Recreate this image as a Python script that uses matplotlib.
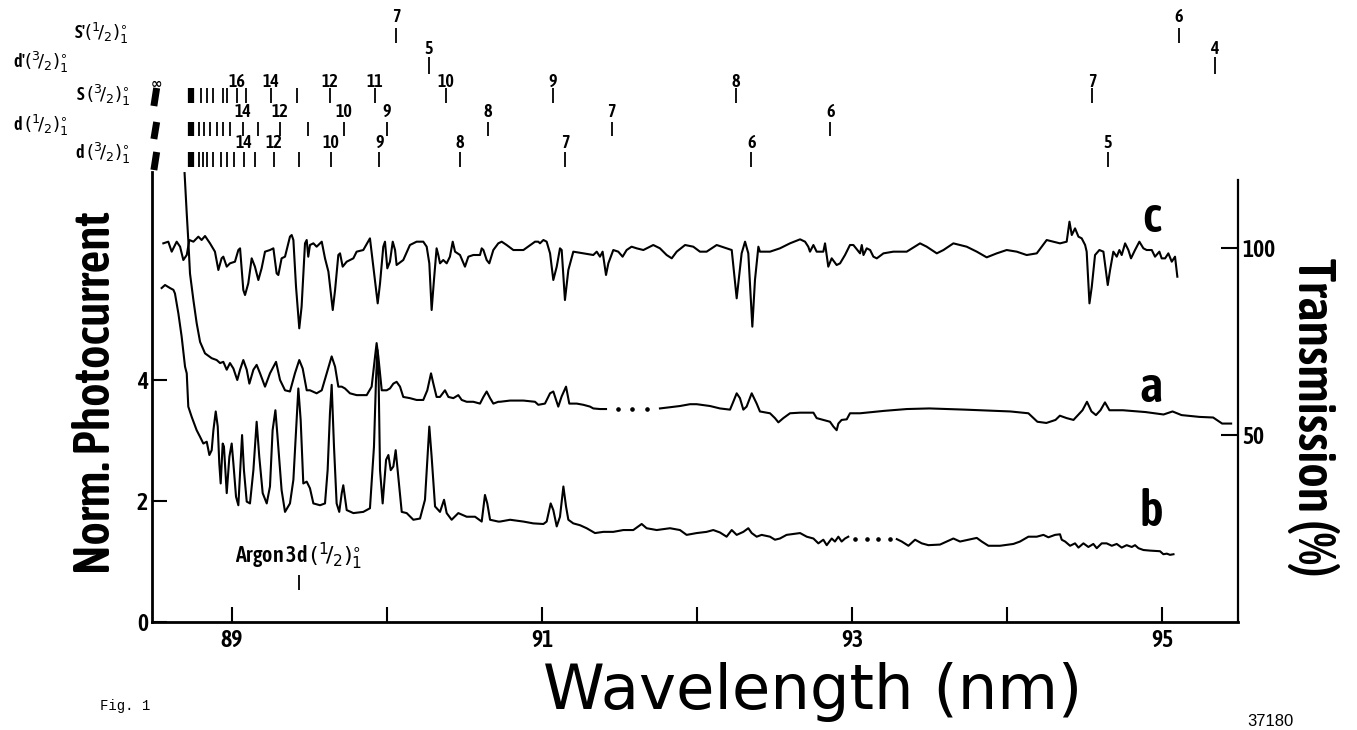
import os
import matplotlib
matplotlib.use("Agg")
import matplotlib.pyplot as plt
from matplotlib import font_manager as fm
from matplotlib.font_manager import FontProperties

# ---------------------------------------------------------------- data
# curve c : transmission (%) vs wavelength (nm)
c_wl = [88.557, 88.589, 88.611, 88.643, 88.665, 88.686, 88.708, 88.725, 88.751, 88.783, 88.804, 88.826,
        88.858, 88.890, 88.912, 88.933, 88.944, 88.966, 88.987, 89.019, 89.041, 89.052, 89.073, 89.084,
        89.105, 89.127, 89.148, 89.170, 89.191, 89.213, 89.245, 89.267, 89.288, 89.299, 89.320, 89.342,
        89.374, 89.385, 89.396, 89.413, 89.434, 89.449, 89.471, 89.482, 89.492, 89.503, 89.525, 89.546,
        89.568, 89.579, 89.600, 89.622, 89.650, 89.665, 89.686, 89.697, 89.714, 89.740, 89.783, 89.804,
        89.847, 89.890, 89.912, 89.940, 89.955, 89.976, 89.987, 90.002, 90.019, 90.037, 90.052, 90.062,
        90.105, 90.148, 90.191, 90.234, 90.256, 90.273, 90.288, 90.303, 90.320, 90.331, 90.342, 90.363,
        90.385, 90.406, 90.424, 90.439, 90.471, 90.503, 90.525, 90.557, 90.600, 90.611, 90.622, 90.643,
        90.660, 90.686, 90.718,
        90.740, 90.772, 90.815, 90.880, 90.955, 90.976, 90.987, 91.009, 91.030, 91.052, 91.073, 91.095,
        91.116, 91.127, 91.148, 91.170, 91.202, 91.267, 91.331, 91.353, 91.374, 91.391, 91.413, 91.428,
        91.460, 91.492, 91.520, 91.546, 91.578, 91.611, 91.654, 91.718, 91.761, 91.804, 91.837, 91.869,
        91.923, 91.976, 92.019, 92.062, 92.127, 92.191, 92.224, 92.256, 92.288, 92.310, 92.331, 92.357,
        92.374, 92.396, 92.406, 92.471, 92.535, 92.600, 92.665, 92.697, 92.718, 92.729, 92.751, 92.772,
        92.815, 92.826, 92.847, 92.869, 92.901, 92.923, 92.955, 92.987, 93.009, 93.052,
        93.063, 93.074, 93.095, 93.117, 93.138, 93.160, 93.203, 93.267, 93.353, 93.439, 93.482, 93.547,
        93.590, 93.654, 93.740, 93.805, 93.869, 93.934, 93.998, 94.063, 94.127, 94.192, 94.224, 94.256,
        94.299, 94.342, 94.385, 94.403, 94.418, 94.439, 94.461, 94.482, 94.504, 94.514, 94.532, 94.547,
        94.568, 94.596, 94.622, 94.650, 94.665, 94.686, 94.708, 94.725, 94.740, 94.762, 94.783, 94.800,
        94.826, 94.854, 94.880, 94.901, 94.934, 94.955, 94.983, 94.998, 95.020, 95.041, 95.063, 95.084,
        95.099]
c_T = [101.25, 101.69, 99.02, 101.69, 100.35, 96.79, 98.13, 102.14, 101.69, 103.03, 102.14, 103.21,
       101.25, 99.02, 94.12, 97.24, 97.68, 95.01, 95.90, 96.34, 99.46, 99.91, 88.77, 87.43,
       90.55, 97.24, 95.01, 91.44, 94.56, 99.02, 99.46, 99.91, 93.22, 92.78, 97.24, 97.68,
       103.03, 103.47, 102.14, 89.66, 78.52, 84.31, 101.25, 102.14, 97.68, 100.80, 101.25, 100.35,
       101.25, 101.69, 97.24, 93.67, 83.42, 88.77, 98.13, 98.57, 95.01, 96.34, 97.24, 99.02,
       99.46, 102.58, 95.01, 85.20, 90.55, 100.35, 101.69, 94.56, 96.34, 101.69, 99.46, 95.45,
       96.79, 100.80, 101.69, 101.69, 100.35, 95.90, 83.42, 91.44, 99.91, 98.13, 95.90, 96.79,
       95.90, 97.68, 101.69, 99.02, 98.13, 95.01, 97.68, 98.13, 98.13, 99.91, 99.46, 96.79,
       95.90, 99.46, 101.25,
       101.69, 100.80, 99.46, 99.46, 101.69, 101.69, 101.25, 102.14, 101.69, 98.57, 91.44, 95.01,
       99.91, 99.46, 86.09, 94.12, 99.02, 98.57, 98.13, 99.02, 97.68, 99.02, 92.78, 95.90,
       99.46, 99.02, 97.68, 99.46, 100.35, 99.91, 99.46, 100.80, 99.91, 98.13, 97.24, 99.02,
       100.80, 100.35, 99.02, 99.02, 100.80, 99.91, 99.46, 86.54, 98.57, 101.69, 98.57, 78.97,
       91.44, 100.35, 99.02, 99.02, 99.91, 101.25, 102.32, 101.69, 100.35, 99.02, 100.80, 99.02,
       99.02, 101.25, 95.01, 97.24, 95.45, 95.90, 98.13, 100.80, 100.80, 98.57,
       100.80, 98.12, 99.91, 99.46, 97.68, 97.23, 98.57, 99.02, 99.02, 101.24, 100.35, 98.57,
       99.46, 101.24, 100.35, 99.02, 97.50, 98.57, 99.46, 99.02, 98.12, 98.57, 100.35, 102.13,
       101.69, 101.24, 101.69, 107.04, 103.47, 105.25, 103.03, 102.58, 100.80, 99.02, 85.20, 89.66,
       98.12, 99.46, 99.02, 90.10, 94.11, 99.02, 97.68, 99.46, 98.12, 101.24, 99.46, 97.23,
       99.46, 101.69, 99.91, 99.46, 99.46, 97.68, 99.02, 97.23, 97.23, 98.57, 96.34, 97.68,
       92.33]

# curve a : normalised photocurrent (solid part 1, dotted gap, solid part 2)
a1_wl = [88.694, 88.708, 88.718, 88.729, 88.751, 88.772, 88.794, 88.826, 88.869, 88.901, 88.923, 88.944,
         88.966, 88.987, 89.009, 89.034, 89.052, 89.073, 89.095, 89.112, 89.138, 89.159, 89.181, 89.213,
         89.245, 89.284, 89.310, 89.342, 89.374, 89.406, 89.434, 89.456, 89.482, 89.503, 89.546, 89.579,
         89.611, 89.643, 89.665, 89.686, 89.708, 89.729, 89.761, 89.804, 89.869, 89.901, 89.923, 89.933,
         89.944, 89.966, 89.998, 90.019, 90.041, 90.062, 90.084, 90.105, 90.148, 90.191, 90.234, 90.260,
         90.284, 90.299, 90.320, 90.342, 90.374, 90.396, 90.428, 90.460, 90.482, 90.514, 90.557, 90.600,
         90.622, 90.643, 90.665, 90.686, 90.718, 90.729, 90.794, 90.880, 90.955, 90.976, 91.019, 91.052,
         91.073, 91.105, 91.127, 91.155, 91.176, 91.224, 91.267, 91.310, 91.331, 91.374, 91.413]
a1_v = [7.42, 6.75, 6.31, 5.76, 5.32, 4.94, 4.63, 4.44, 4.36, 4.33, 4.28, 4.30,
        4.17, 4.28, 4.19, 4.00, 4.17, 4.33, 4.17, 3.94, 4.17, 4.25, 4.11, 3.89,
        4.11, 4.30, 4.00, 3.83, 3.81, 4.11, 4.33, 4.19, 3.83, 3.83, 3.78, 3.83,
        4.11, 4.39, 4.22, 3.89, 3.89, 3.86, 3.78, 3.75, 3.75, 3.89, 4.39, 4.61,
        4.39, 3.83, 3.83, 3.86, 3.94, 3.97, 3.89, 3.72, 3.70, 3.67, 3.67, 3.83,
        4.11, 3.94, 3.72, 3.72, 3.83, 3.72, 3.70, 3.75, 3.67, 3.64, 3.64, 3.61,
        3.72, 3.81, 3.70, 3.61, 3.64, 3.64, 3.66, 3.66, 3.64, 3.59, 3.61, 3.78,
        3.81, 3.56, 3.73, 3.89, 3.61, 3.61, 3.59, 3.56, 3.53, 3.52, 3.52]
a_gap_wl = [91.492, 91.578, 91.675]
a_gap_v = [3.52, 3.52, 3.52]
a2_wl = [91.761, 91.826, 91.890, 91.955, 91.998, 92.084, 92.148, 92.213, 92.234, 92.256, 92.277, 92.299,
         92.320, 92.353, 92.385, 92.406, 92.471, 92.503, 92.525, 92.557, 92.600, 92.665, 92.751, 92.772,
         92.815, 92.858, 92.880, 92.901, 92.912, 92.933, 92.966, 92.987, 93.052, 93.208, 93.354, 93.499,
         93.731, 94.022, 94.138, 94.196, 94.254, 94.313, 94.341, 94.385, 94.429, 94.487, 94.516, 94.545,
         94.574, 94.603, 94.632, 94.661, 94.748, 94.894, 95.010, 95.068, 95.126, 95.242, 95.330, 95.388,
         95.446]
a2_v = [3.53, 3.55, 3.57, 3.60, 3.60, 3.57, 3.53, 3.51, 3.64, 3.78, 3.70, 3.51,
        3.56, 3.78, 3.61, 3.48, 3.45, 3.37, 3.30, 3.37, 3.45, 3.46, 3.46, 3.37,
        3.34, 3.31, 3.23, 3.17, 3.28, 3.34, 3.35, 3.45, 3.45, 3.49, 3.52, 3.53,
        3.51, 3.48, 3.45, 3.31, 3.29, 3.34, 3.41, 3.37, 3.34, 3.50, 3.64, 3.48,
        3.42, 3.50, 3.63, 3.50, 3.50, 3.47, 3.43, 3.48, 3.42, 3.39, 3.38, 3.28,
        3.28]

# curve b : normalised photocurrent
b1_wl = [88.546, 88.568, 88.600, 88.622, 88.632, 88.654, 88.675, 88.697, 88.708, 88.718, 88.740, 88.772,
         88.794, 88.815, 88.837, 88.854, 88.869, 88.880, 88.895, 88.908, 88.918, 88.927, 88.940, 88.948,
         88.966, 88.983, 88.998, 89.009, 89.026, 89.041, 89.052, 89.065, 89.077, 89.095, 89.116, 89.138,
         89.159, 89.176, 89.198, 89.224, 89.245, 89.262, 89.280, 89.292, 89.320, 89.342, 89.374, 89.396,
         89.417, 89.428, 89.443, 89.460, 89.482, 89.503, 89.525, 89.568, 89.600, 89.617, 89.632, 89.643,
         89.658, 89.675, 89.692, 89.708, 89.718, 89.740, 89.783, 89.847, 89.890, 89.916, 89.929, 89.938,
         89.946, 89.955, 89.972, 89.994, 90.009, 90.024, 90.041, 90.056, 90.073, 90.095, 90.127, 90.170,
         90.213, 90.245, 90.273, 90.288, 90.310, 90.342, 90.368, 90.385, 90.417, 90.460, 90.514, 90.568,
         90.611, 90.632, 90.647, 90.665, 90.718, 90.729, 90.794, 90.880, 90.944, 91.009, 91.030, 91.056,
         91.073, 91.095, 91.116, 91.138, 91.155, 91.170, 91.202, 91.245, 91.288, 91.342, 91.396, 91.460,
         91.525, 91.589, 91.643, 91.675, 91.740, 91.826, 91.890, 91.933, 91.998, 92.062, 92.105, 92.148,
         92.191, 92.224, 92.256, 92.299, 92.331, 92.353, 92.385, 92.417, 92.471, 92.503, 92.535, 92.578,
         92.665, 92.708, 92.751, 92.783, 92.815, 92.837, 92.869, 92.890, 92.912, 92.933, 92.955, 92.976]
b1_v = [5.52, 5.57, 5.52, 5.49, 5.43, 5.10, 4.72, 4.22, 4.11, 3.56, 3.39, 3.17,
        3.06, 2.95, 2.98, 2.76, 2.84, 3.17, 3.48, 3.23, 2.62, 2.29, 2.95, 2.90,
        2.13, 2.73, 2.95, 2.62, 2.07, 1.93, 2.46, 3.09, 2.51, 1.99, 1.96, 2.51,
        3.31, 2.73, 2.13, 1.96, 2.24, 3.17, 3.50, 3.12, 2.18, 1.82, 1.96, 2.35,
        3.34, 3.86, 3.34, 2.29, 2.32, 2.21, 1.96, 1.93, 1.96, 2.51, 3.45, 3.92,
        2.90, 1.96, 1.82, 2.13, 2.26, 1.85, 1.80, 1.82, 1.88, 2.90, 4.00, 4.50,
        4.00, 2.51, 1.96, 2.68, 2.76, 2.51, 2.57, 2.84, 2.40, 1.82, 1.80, 1.69,
        1.71, 2.02, 3.23, 2.73, 1.91, 1.82, 2.02, 1.80, 1.69, 1.80, 1.74, 1.74,
        1.66, 2.10, 1.96, 1.69, 1.66, 1.66, 1.69, 1.66, 1.63, 1.62, 1.66, 1.96,
        1.85, 1.58, 1.74, 2.24, 1.91, 1.69, 1.63, 1.60, 1.55, 1.47, 1.49, 1.49,
        1.52, 1.52, 1.62, 1.55, 1.52, 1.55, 1.52, 1.44, 1.47, 1.49, 1.52, 1.48,
        1.41, 1.52, 1.44, 1.49, 1.55, 1.47, 1.41, 1.44, 1.41, 1.36, 1.38, 1.44,
        1.47, 1.41, 1.38, 1.30, 1.36, 1.27, 1.38, 1.33, 1.41, 1.33, 1.38, 1.41]
b_gap_wl = [93.020, 93.095, 93.170, 93.246]
b_gap_v = [1.38, 1.38, 1.38, 1.38]
b2_wl = [93.289, 93.321, 93.364, 93.407, 93.450, 93.493, 93.568, 93.611, 93.654, 93.697, 93.751, 93.805,
         93.837, 93.880, 93.955, 94.041, 94.084, 94.138, 94.192, 94.235, 94.267, 94.310, 94.342, 94.353,
         94.375, 94.407, 94.439, 94.461, 94.493, 94.525, 94.557, 94.579, 94.611, 94.643, 94.676, 94.708,
         94.740, 94.772, 94.805, 94.826, 94.848, 94.880, 94.923, 94.987, 95.009, 95.031, 95.052, 95.074]
b2_v = [1.37, 1.33, 1.26, 1.36, 1.30, 1.27, 1.28, 1.33, 1.38, 1.33, 1.36, 1.39,
        1.33, 1.26, 1.26, 1.29, 1.33, 1.41, 1.41, 1.44, 1.40, 1.44, 1.45, 1.36,
        1.33, 1.26, 1.30, 1.23, 1.30, 1.24, 1.29, 1.22, 1.30, 1.30, 1.26, 1.29,
        1.23, 1.27, 1.24, 1.27, 1.22, 1.19, 1.18, 1.17, 1.12, 1.13, 1.11, 1.12]

# Rydberg series line positions (nm) and their principal quantum numbers
s1p_wl = [90.06, 95.11]
s1p_lab = ["7", "6"]
d3p_wl = [90.27, 95.34]
d3p_lab = ["5", "4"]
s32_wl = [88.80, 88.84, 88.88, 88.94, 88.97, 89.03, 89.09, 89.25, 89.42, 89.63, 89.92, 90.38, 91.07, 92.25, 94.55]
s32_lab = ["", "", "", "", "", "16", "", "14", "", "12", "11", "10", "9", "8", "7"]
d12_wl = [88.79, 88.82, 88.86, 88.90, 88.94, 88.99, 89.07, 89.17, 89.31, 89.49, 89.72, 90.00, 90.65, 91.45, 92.86]
d12_lab = ["", "", "", "", "", "", "14", "", "12", "", "10", "9", "8", "7", "6"]
d32_wl = [88.79, 88.81, 88.84, 88.88, 88.93, 88.97, 89.01, 89.08, 89.15, 89.27, 89.43, 89.64, 89.95, 90.47,
          91.15, 92.35, 94.65]
d32_lab = ["", "", "", "", "", "", "", "14", "", "12", "", "10", "9", "8", "7", "6", "5"]
series_limit_wl = 88.50
dense_block_wl = 88.735
argon_3d_wl = 89.43

x_ticks = [89, 90, 91, 92, 93, 94, 95]
x_ticklabels = ["89", "", "91", "", "93", "", "95"]
y_ticks = [0, 2, 4]
t_ticks = [50, 100]

# ---------------------------------------------------------------- fonts
def pick_condensed():
    best, bestscore = None, -1.0
    for f in fm.fontManager.ttflist:
        key = (f.name + " " + os.path.basename(f.fname)).lower()
        flat = key.replace(" ", "").replace("-", "").replace("_", "")
        if "italic" in flat or "oblique" in flat:
            continue
        if "extracondensed" in flat or "ultracondensed" in flat:
            s = 3.0
        elif "semicondensed" in flat:
            s = 2.0
        elif "condensed" in flat:
            s = 5.0
        elif "narrow" in flat:
            s = 4.0
        else:
            continue
        w = f.weight
        if not isinstance(w, int):
            w = {"bold": 700, "normal": 400, "medium": 500, "semibold": 600}.get(str(w), 400)
        s += {600: 0.6, 500: 0.5, 700: 0.45, 400: 0.2}.get(w, 0.0)
        if s > bestscore:
            best, bestscore = f.fname, s
    return best

cond_path = pick_condensed()
if cond_path:
    FP = lambda: FontProperties(fname=cond_path)
else:
    FP = lambda: FontProperties(family="DejaVu Sans", weight="bold")

plt.rcParams["mathtext.fontset"] = "dejavusans"

# ---------------------------------------------------------------- figure
W, H = 1357, 730
fig = plt.figure(figsize=(W / 100, H / 100), dpi=100)
fig.patch.set_facecolor("white")

def fx(px):
    return px / W

def fy(py):
    return 1 - py / H

L, R, B, T = 152, 1238, 622, 172
px_per_nm = 155.0
x0 = 89 + (L - 232) / px_per_nm
x1 = 89 + (R - 232) / px_per_nm

ax = fig.add_axes([fx(L), fy(B), fx(R) - fx(L), fy(T) - fy(B)])
ax.set_xlim(x0, x1)
ax.set_ylim(0, (B - T) / 60.5)
ax2 = ax.twinx()
ax2.set_ylim(0, (B - T) / 3.74)

for s in ["top", "right"]:
    ax.spines[s].set_visible(False)
ax.spines["left"].set_linewidth(2.0)
ax.spines["bottom"].set_linewidth(2.0)
for s in ["top", "left", "bottom"]:
    ax2.spines[s].set_visible(False)
ax2.spines["right"].set_linewidth(1.6)
ax2.spines["right"].set_bounds(0, (B - 180) / 3.74)

ax.set_xticks(x_ticks)
ax.set_xticklabels(x_ticklabels)
ax.set_yticks(y_ticks)
ax.set_yticklabels([str(v) for v in y_ticks])
ax2.set_yticks(t_ticks)
ax2.set_yticklabels([str(v) for v in t_ticks])
ax.tick_params(axis="x", direction="in", length=11, width=1.5, pad=5)
ax.tick_params(axis="y", direction="in", length=11, width=1.5, pad=3)
ax2.tick_params(axis="y", direction="in", length=12, width=1.5, pad=3)
for lab in ax.get_xticklabels() + ax.get_yticklabels() + ax2.get_yticklabels():
    lab.set_fontproperties(FP())
    lab.set_fontsize(17)

lw = 1.5
ax.plot(a1_wl, a1_v, color="black", lw=lw, clip_on=False)
ax.plot(a_gap_wl, a_gap_v, ls="none", marker="o", ms=2.3, color="black")
ax.plot(a2_wl, a2_v, color="black", lw=lw)
ax.plot(b1_wl, b1_v, color="black", lw=lw)
ax.plot(b_gap_wl, b_gap_v, ls="none", marker="o", ms=2.3, color="black")
ax.plot(b2_wl, b2_v, color="black", lw=lw)
ax2.plot(c_wl, c_T, color="black", lw=lw)

# Argon 3d marker
ax.vlines([argon_3d_wl], (B - 590) / 60.5, (B - 575) / 60.5, color="black", lw=1.3)
t_ar = ax.text(argon_3d_wl, (B - 556) / 60.5, r"Argon 3d $(^{1}\!/_{2})^{\circ}_{1}$",
               ha="center", va="center", fontproperties=FP(), fontsize=12)

# ---------------------------------------------------------------- series markers above the axes
axm = fig.add_axes([fx(L), fy(T), fx(R) - fx(L), fy(0) - fy(T)])
axm.set_xlim(x0, x1)
axm.set_ylim(T, 0)
axm.axis("off")

rows = [
    (s1p_wl, s1p_lab, 28, 43, 17, False),
    (d3p_wl, d3p_lab, 57, 74, 49, False),
    (s32_wl, s32_lab, 88, 103, 82, True),
    (d12_wl, d12_lab, 122, 136, 112, True),
    (d32_wl, d32_lab, 152, 167, 143, True),
]
for wl, labs, ytop, ybot, ylab, has_limit in rows:
    axm.vlines(wl, ytop, ybot, color="black", lw=1.3)
    for w_, s_ in zip(wl, labs):
        if s_:
            axm.text(w_, ylab, s_, ha="center", va="center", fontproperties=FP(), fontsize=13)
    if has_limit:
        axm.plot([series_limit_wl - 0.004, series_limit_wl + 0.014], [ybot + 3, ytop], color="black",
                 lw=5, solid_capstyle="butt", clip_on=False)
        axm.vlines([dense_block_wl], ytop, ybot, color="black", lw=4.5)
axm.text(series_limit_wl + 0.01, 84, "\u221e", ha="center", va="center", fontsize=10,
         fontweight="bold", family="DejaVu Sans")

row_names = [
    (r"S'$(^{1}\!/_{2})^{\circ}_{1}$", 128, 33),
    (r"d'$(^{3}\!/_{2})^{\circ}_{1}$", 68, 62),
    (r"S$\,(^{3}\!/_{2})^{\circ}_{1}$", 130, 95),
    (r"d$\,(^{1}\!/_{2})^{\circ}_{1}$", 68, 125),
    (r"d$\,(^{3}\!/_{2})^{\circ}_{1}$", 130, 153),
]
for txt, xr, yc in row_names:
    fig.text(fx(xr), fy(yc), txt, ha="right", va="center", fontproperties=FP(), fontsize=13)

# ---------------------------------------------------------------- titles and letters
t_yl = fig.text(fx(97), fy(393), "Norm. Photocurrent", rotation=90, ha="center", va="center",
                fontproperties=FP(), fontsize=36)
t_xl = fig.text(fx(813), fy(709), "Wavelength (nm)", ha="center", va="baseline",
                family="DejaVu Sans", fontsize=45)
t_tr = fig.text(fx(1313), fy(417), "Transmission (%)", rotation=270, ha="center", va="center",
                fontproperties=FP(), fontsize=30)
for s_, yc in [("c", 218), ("a", 388), ("b", 513)]:
    fig.text(fx(1151), fy(yc), s_, ha="center", va="center", fontproperties=FP(), fontsize=36)

fig.text(fx(100), fy(706), "Fig. 1", ha="left", va="center", family="Liberation Mono", fontsize=10)
fig.text(fx(1270), fy(721), "37180", ha="center", va="center", family="Liberation Sans", fontsize=12)

# fit the rotated labels / annotation to the measured lengths
fig.canvas.draw()
r = fig.canvas.get_renderer()
for t, target, dim in [(t_yl, 363, "h"), (t_tr, 319, "h"), (t_ar, 128, "w")]:
    bb = t.get_window_extent(r)
    cur = bb.height if dim == "h" else bb.width
    if cur > 0:
        t.set_fontsize(t.get_fontsize() * target / cur)

fig.savefig("out.png", dpi=100, facecolor="white")
